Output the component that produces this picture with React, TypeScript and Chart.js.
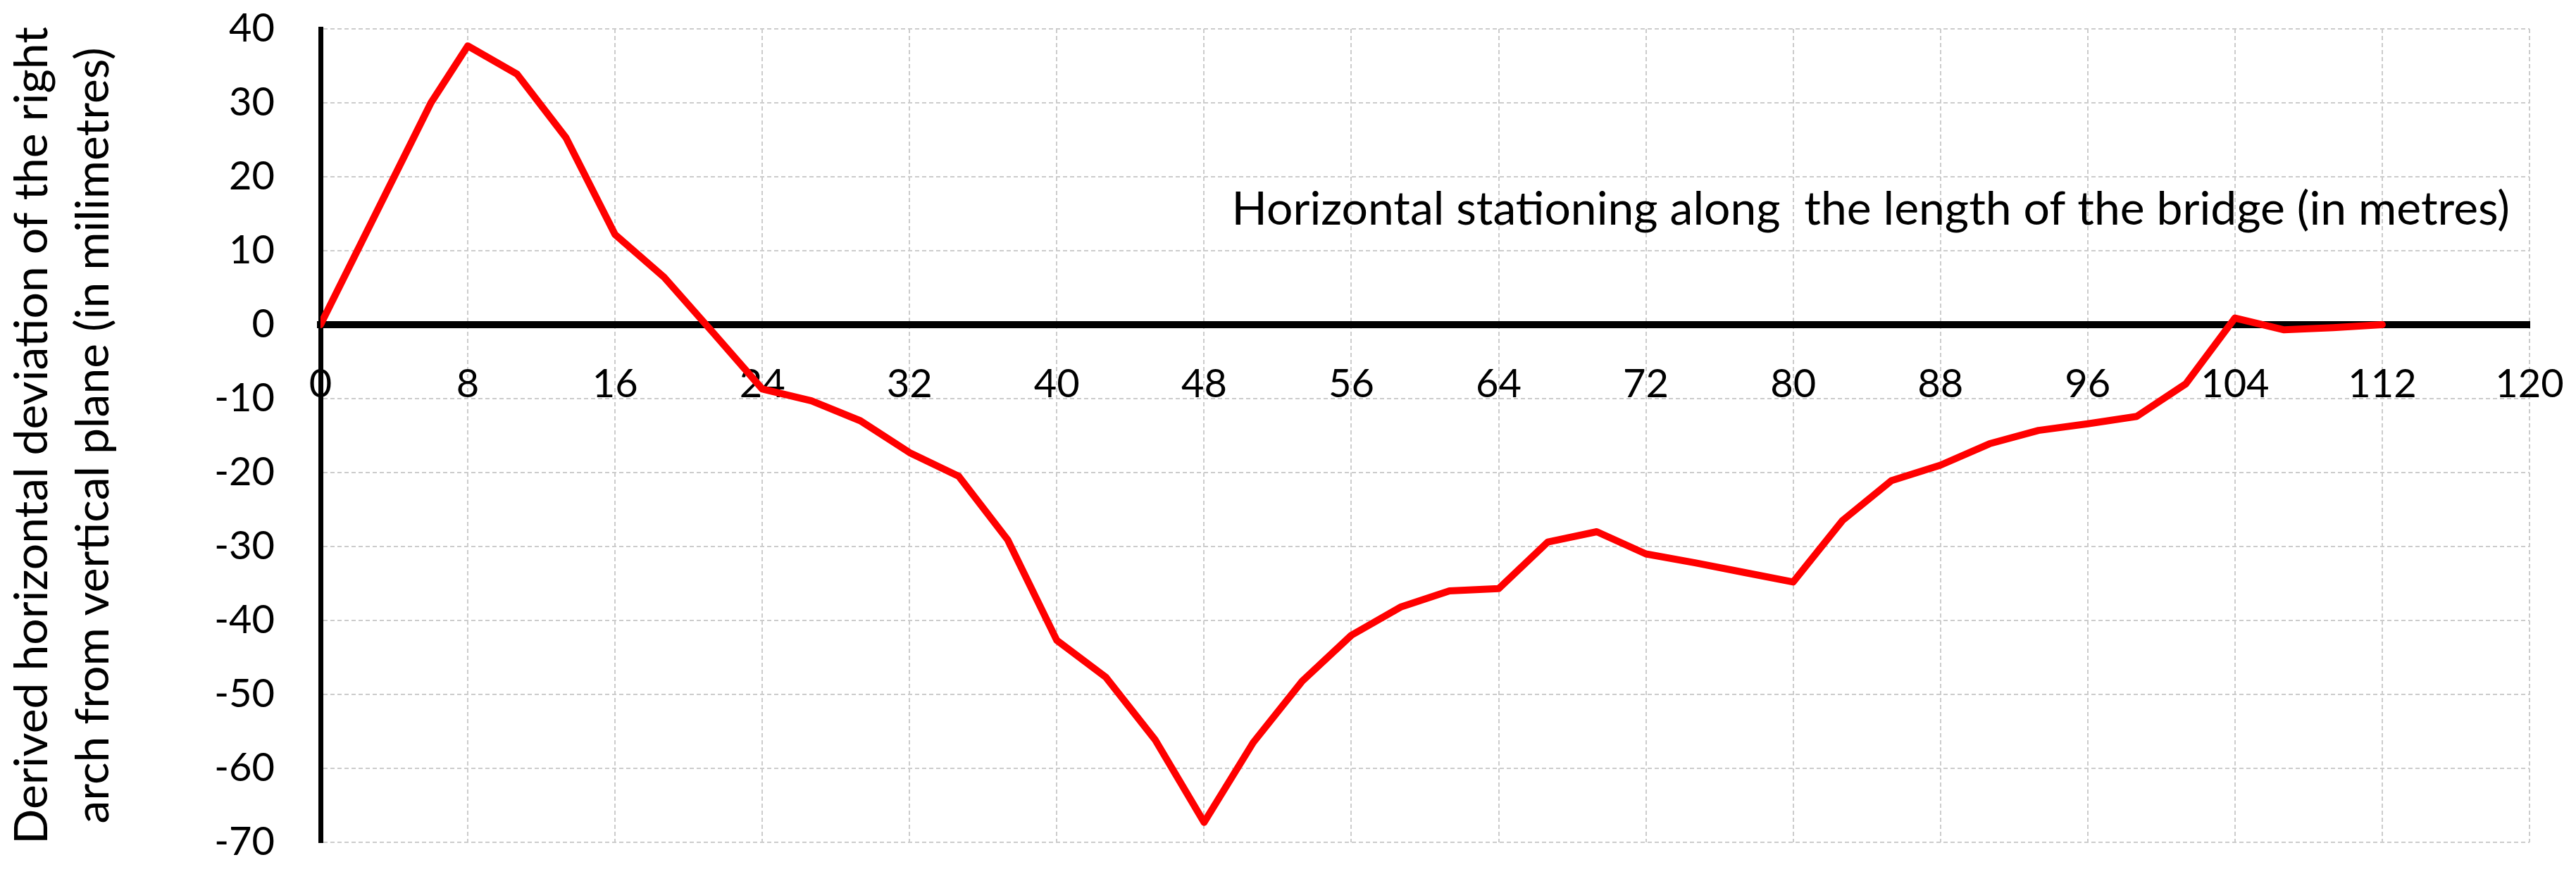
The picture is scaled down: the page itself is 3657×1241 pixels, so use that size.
import React, { useEffect, useRef } from "react";
import { Chart, registerables } from "chart.js";

Chart.register(...registerables);

// Horizontal stationing (m)
const stations: number[] = [
  0, 6, 8, 10.67, 13.33, 16, 18.67, 21.33, 24, 26.67, 29.33, 32, 34.67, 37.33,
  40, 42.67, 45.33, 48, 50.67, 53.33, 56, 58.67, 61.33, 64, 66.67, 69.33, 72,
  74.67, 77.33, 80, 82.67, 85.33, 88, 90.67, 93.33, 96, 98.67, 101.33, 104,
  106.67, 109.33, 112,
];

// Derived horizontal deviation (mm)
const deviations: number[] = [
  0, 30, 37.7, 33.9, 25.3, 12.2, 6.4, -1.1, -8.7, -10.3, -13.0, -17.3, -20.5,
  -29.1, -42.7, -47.7, -56.1, -67.3, -56.5, -48.2, -42.0, -38.2, -36.0, -35.7,
  -29.4, -28.0, -31.0, -32.2, -33.5, -34.8, -26.5, -21.1, -19.0, -16.1, -14.3,
  -13.4, -12.4, -8.0, 0.9, -0.7, -0.4, 0,
];

const X_MIN = 0;
const X_MAX = 120;
const X_STEP = 8;
const Y_MIN = -70;
const Y_MAX = 40;
const Y_STEP = 10;

const xAxisTitle =
  "Horizontal stationing along  the length of the bridge (in metres)";
const yAxisTitle = [
  "Derived horizontal deviation of the right",
  "arch from vertical plane (in milimetres)",
];

const FONT = "Lato, 'Open Sans', sans-serif";

const innerTitlePlugin = {
  id: "innerTitle",
  afterDatasetsDraw(chart: any) {
    const { ctx, scales } = chart;
    const x = scales.x.getPixelForValue(49.5);
    const y = scales.y.getPixelForValue(13.5);
    ctx.save();
    ctx.font = `66px ${FONT}`;
    ctx.fillStyle = "#000000";
    ctx.textAlign = "left";
    ctx.textBaseline = "alphabetic";
    ctx.fillText(xAxisTitle, x, y);
    ctx.restore();
  },
};

export default function App() {
  const canvasRef = useRef<HTMLCanvasElement | null>(null);

  useEffect(() => {
    if (!canvasRef.current) return;
    const points = stations.map((s, i) => ({ x: s, y: deviations[i] }));
    const chart = new Chart(canvasRef.current, {
      type: "line",
      data: {
        datasets: [
          {
            label: "Deviation",
            data: points,
            borderColor: "#ff0000",
            backgroundColor: "#ff0000",
            borderWidth: 10,
            pointRadius: 0,
            borderJoinStyle: "round",
            borderCapStyle: "round",
            tension: 0,
          },
        ],
      },
      options: {
        animation: false,
        responsive: false,
        devicePixelRatio: 1,
        layout: { padding: { left: 0, right: 66, top: 41, bottom: 45 } },
        plugins: {
          legend: { display: false },
          tooltip: { enabled: false },
        },
        scales: {
          x: {
            type: "linear",
            position: { y: 0 },
            min: X_MIN,
            max: X_MAX,
            ticks: {
              stepSize: X_STEP,
              color: "#000000",
              font: { family: FONT, size: 56 },
              padding: 51,
              maxRotation: 0,
              autoSkip: false,
            },
            grid: {
              color: "#cccccc",
              lineWidth: 2,
              drawTicks: false,
            },
            border: { display: true, color: "#000000", width: 10, dash: [6, 4] },
            afterFit: (scale: any) => {
              scale.paddingLeft = 0;
              scale.paddingRight = 0;
            },
          },
          y: {
            type: "linear",
            min: Y_MIN,
            max: Y_MAX,
            ticks: {
              stepSize: Y_STEP,
              color: "#000000",
              font: { family: FONT, size: 56 },
              padding: 65,
            },
            grid: {
              color: "#cccccc",
              lineWidth: 2,
              drawTicks: false,
            },
            border: { display: true, color: "#000000", width: 7, dash: [6, 4] },
            title: {
              display: true,
              text: yAxisTitle,
              color: "#000000",
              font: { family: FONT, size: 66, lineHeight: 1.32 },
              padding: { top: 2, bottom: 0 },
            },
            afterFit: (scale: any) => {
              scale.width = 455;
              scale.paddingTop = 0;
              scale.paddingBottom = 0;
            },
          },
        },
      },
      plugins: [innerTitlePlugin],
    });
    return () => chart.destroy();
  }, []);

  return (
    <div
      style={{
        position: "absolute",
        left: 0,
        top: 0,
        width: 3657,
        height: 1241,
        background: "#ffffff",
      }}
    >
      <canvas
        ref={canvasRef}
        width={3657}
        height={1241}
        style={{ display: "block", width: 3657, height: 1241 }}
      />
    </div>
  );
}
